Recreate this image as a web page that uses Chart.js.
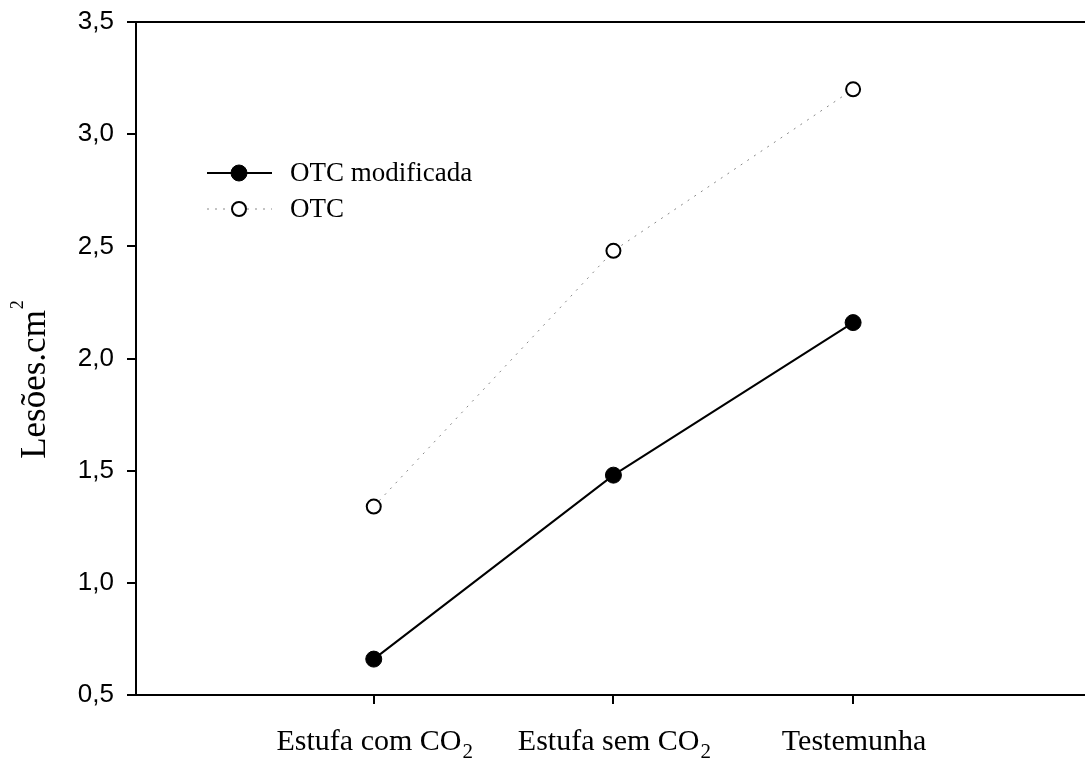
<!DOCTYPE html>
<html>
<head>
<meta charset="utf-8">
<script src="https://cdn.jsdelivr.net/npm/chart.js@4.4.1/dist/chart.umd.min.js"></script>
<style>
  body { margin: 0; background: #fff; }
  #wrap { width: 1085px; height: 760px; position: relative; }
</style>
</head>
<body>
<div id="wrap"><canvas id="chart"></canvas></div>
<script>
// categorias e valores
const categories = ['Estufa com CO', 'Estufa sem CO', 'Testemunha'];
const categorySubs = ['2', '2', ''];
const otcModificada = [0.66, 1.48, 2.16];
const otc = [1.34, 2.48, 3.20];
const yTicks = [0.5, 1.0, 1.5, 2.0, 2.5, 3.0, 3.5];
const yTitle = 'Lesões.cm';
const yTitleSup = '2';
const legendLabels = ['OTC modificada', 'OTC'];

const serif = '"Liberation Serif", "Times New Roman", serif';

function toPoints(values) {
    return values.map((v, i) => ({ x: i + 1, y: v }));
}

// eixos extras, legenda e rotulos com subscrito
const extrasPlugin = {
    id: 'extras',
    afterDraw(chart) {
        const ctx = chart.ctx;
        const area = chart.chartArea;
        const xs = chart.scales.x;

        ctx.save();
        // linha do topo e prolongamento da base ate a borda
        ctx.strokeStyle = '#000';
        ctx.lineWidth = 2;
        ctx.beginPath();
        ctx.moveTo(area.left - 1, area.top);
        ctx.lineTo(chart.width, area.top);
        ctx.moveTo(area.right - 1, area.bottom);
        ctx.lineTo(chart.width, area.bottom);
        ctx.stroke();

        // rotulos do eixo x
        ctx.fillStyle = '#000';
        ctx.textBaseline = 'alphabetic';
        ctx.textAlign = 'left';
        categories.forEach((label, i) => {
            const px = xs.getPixelForValue(i + 1);
            ctx.font = '30px ' + serif;
            const w1 = ctx.measureText(label).width;
            let w2 = 0;
            if (categorySubs[i]) {
                ctx.font = '21px ' + serif;
                w2 = ctx.measureText(categorySubs[i]).width + 1;
            }
            const start = px - (w1 + w2) / 2 + 1;
            ctx.font = '30px ' + serif;
            ctx.fillText(label, start, 750);
            if (categorySubs[i]) {
                ctx.font = '21px ' + serif;
                ctx.fillText(categorySubs[i], start + w1 + 1, 758);
            }
        });

        // titulo do eixo y
        ctx.font = '35px ' + serif;
        const tw = ctx.measureText(yTitle).width;
        ctx.font = '18px ' + serif;
        const sw = ctx.measureText(yTitleSup).width;
        const cy = 380;
        ctx.translate(45, cy + (tw + sw) / 2);
        ctx.rotate(-Math.PI / 2);
        ctx.font = '35px ' + serif;
        ctx.fillText(yTitle, 0, 0);
        ctx.font = '18px ' + serif;
        ctx.fillText(yTitleSup, tw + 1, -22);
        ctx.restore();

        // legenda
        ctx.save();
        const rows = [173, 209];
        chart.data.datasets.forEach((ds, i) => {
            const y = rows[i];
            ctx.strokeStyle = ds.borderColor;
            ctx.lineWidth = ds.borderWidth;
            ctx.setLineDash(ds.borderDash || []);
            ctx.beginPath();
            ctx.moveTo(207, y);
            ctx.lineTo(272, y);
            ctx.stroke();
            ctx.setLineDash([]);
            ctx.beginPath();
            ctx.arc(239, y, ds.pointRadius, 0, Math.PI * 2);
            ctx.fillStyle = ds.pointBackgroundColor;
            ctx.fill();
            ctx.lineWidth = ds.pointBorderWidth;
            ctx.strokeStyle = ds.pointBorderColor;
            ctx.stroke();
            ctx.fillStyle = '#000';
            ctx.font = '27px ' + serif;
            ctx.textBaseline = 'middle';
            ctx.fillText(legendLabels[i], 290, y + 1);
        });
        ctx.restore();
    }
};

new Chart(document.getElementById('chart'), {
    type: 'line',
    data: {
        datasets: [
            {
                label: legendLabels[0],
                data: toPoints(otcModificada),
                borderColor: '#000',
                borderWidth: 2,
                pointRadius: 8,
                pointBackgroundColor: '#000',
                pointBorderColor: '#000',
                pointBorderWidth: 1,
                tension: 0
            },
            {
                label: legendLabels[1],
                data: toPoints(otc),
                borderColor: '#888',
                borderWidth: 1,
                borderDash: [2, 6],
                pointRadius: 7,
                pointBackgroundColor: '#fff',
                pointBorderColor: '#000',
                pointBorderWidth: 2,
                tension: 0
            }
        ]
    },
    options: {
        responsive: true,
        maintainAspectRatio: false,
        animation: false,
        layout: { padding: { top: 22, left: 0, right: 0, bottom: 0 } },
        plugins: {
            legend: { display: false },
            tooltip: { enabled: false }
        },
        scales: {
            x: {
                type: 'linear',
                min: 0.008,
                max: 3.93,
                afterBuildTicks: s => { s.ticks = categories.map((c, i) => ({ value: i + 1 })); },
                afterFit: s => { s.height = 65; s.paddingLeft = 0; s.paddingRight = 0; },
                ticks: { display: false },
                grid: { drawOnChartArea: false, drawTicks: true, tickLength: 9, color: '#000', lineWidth: 2 },
                border: { display: true, color: '#000', width: 2 }
            },
            y: {
                min: 0.5,
                max: 3.5,
                afterBuildTicks: s => { s.ticks = yTicks.map(v => ({ value: v })); },
                afterFit: s => { s.width = 136; s.paddingTop = 0; s.paddingBottom = 0; },
                ticks: {
                    color: '#000',
                    padding: 13,
                    font: { family: '"Liberation Sans", Arial, sans-serif', size: 26 },
                    callback: v => v.toFixed(1).replace('.', ',')
                },
                grid: { drawOnChartArea: false, drawTicks: true, tickLength: 9, color: '#000', lineWidth: 2 },
                border: { display: true, color: '#000', width: 2 }
            }
        }
    },
    plugins: [extrasPlugin]
});
</script>
</body>
</html>
